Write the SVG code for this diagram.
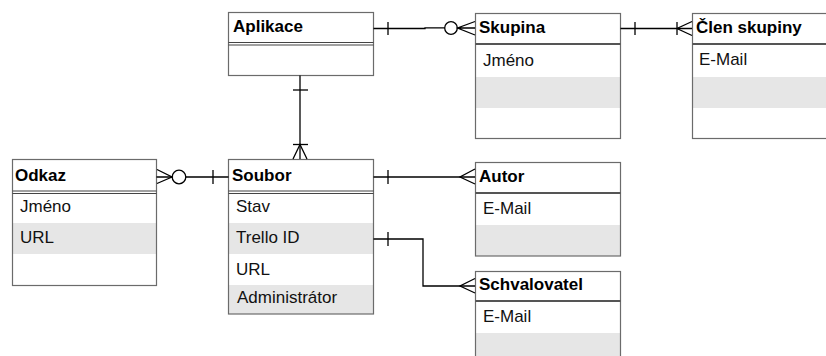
<svg xmlns="http://www.w3.org/2000/svg" width="826" height="356" viewBox="0 0 826 356">
<style>
.box{fill:#fff;stroke:#6b6b6b;stroke-width:1.2}
.alt{fill:#e6e6e6}
.sep{stroke:#444;stroke-width:1.2;fill:none}
.sep2{stroke:#555;stroke-width:2;fill:none}
.h{font-family:"Liberation Sans",Arial,sans-serif;font-weight:bold;font-size:17px;fill:#000}
.t{font-family:"Liberation Sans",Arial,sans-serif;font-size:17px;fill:#111}
.c{stroke:#000;stroke-width:1.3;fill:none}
.ci{stroke:#000;stroke-width:1.3;fill:#fff}
</style>
<g id="aplikace">
<rect class="box" x="228.5" y="12.5" width="145" height="63"/>
<line class="sep" x1="228.5" y1="42.5" x2="373.5" y2="42.5"/>
<line class="sep" x1="228.5" y1="45" x2="373.5" y2="45"/>
<text class="h" x="233" y="32">Aplikace</text>
</g>
<g id="skupina">
<rect class="alt" x="475.5" y="77" width="145" height="31"/>
<rect class="box" x="475.5" y="13.5" width="145" height="125" fill="none" style="fill:none"/>
<line class="sep2" x1="475.5" y1="44" x2="620.5" y2="44"/>
<text class="h" x="479" y="33">Skupina</text>
<text class="t" x="483" y="66">Jméno</text>
</g>
<g id="clen">
<rect class="alt" x="692.5" y="77" width="140" height="31"/>
<rect class="box" x="692.5" y="13.5" width="150" height="125" style="fill:none"/>
<line class="sep2" x1="692.5" y1="44" x2="826" y2="44"/>
<text class="h" x="696" y="33">Člen skupiny</text>
<text class="t" x="699" y="65">E-Mail</text>
</g>
<g id="odkaz">
<rect class="alt" x="12.5" y="223" width="144" height="31"/>
<rect class="box" x="12.5" y="159.5" width="144" height="126" style="fill:none"/>
<line class="sep" x1="12.5" y1="191" x2="156.5" y2="191"/>
<line class="sep" x1="12.5" y1="193.5" x2="156.5" y2="193.5"/>
<text class="h" x="15" y="181">Odkaz</text>
<text class="t" x="20" y="212">Jméno</text>
<text class="t" x="20" y="243">URL</text>
</g>
<g id="soubor">
<rect class="alt" x="228.5" y="223" width="145" height="31"/>
<rect class="alt" x="228.5" y="285" width="145" height="29"/>
<rect class="box" x="228.5" y="159.5" width="145" height="154.5" style="fill:none"/>
<line class="sep" x1="228.5" y1="191" x2="373.5" y2="191"/>
<line class="sep" x1="228.5" y1="193.5" x2="373.5" y2="193.5"/>
<text class="h" x="232" y="181">Soubor</text>
<text class="t" x="236" y="212">Stav</text>
<text class="t" x="236" y="243">Trello ID</text>
<text class="t" x="236" y="275">URL</text>
<text class="t" x="237" y="303">Administrátor</text>
</g>
<g id="autor">
<rect class="alt" x="475.5" y="225" width="145" height="31"/>
<rect class="box" x="475.5" y="162.5" width="145" height="93.5" style="fill:none"/>
<line class="sep2" x1="475.5" y1="193" x2="620.5" y2="193"/>
<text class="h" x="479" y="182">Autor</text>
<text class="t" x="483" y="214">E-Mail</text>
</g>
<g id="schvalovatel">
<rect class="alt" x="475.5" y="333" width="145" height="40"/>
<rect class="box" x="475.5" y="271.5" width="145" height="110" style="fill:none"/>
<line class="sep2" x1="475.5" y1="301" x2="620.5" y2="301"/>
<text class="h" x="479" y="290">Schvalovatel</text>
<text class="t" x="483" y="322">E-Mail</text>
</g>
<g id="connectors">
<!-- Aplikace - Skupina -->
<path class="c" d="M373.5 28.5 H425 V27.8 H445"/>
<line class="c" x1="388" y1="22" x2="388" y2="35"/>
<circle class="ci" cx="451" cy="28" r="6.3"/>
<path class="c" d="M475 21.5 L457.5 28 L475 35 M457.5 28 H475"/>
<!-- Skupina - Clen -->
<path class="c" d="M620.5 28.5 H692"/>
<line class="c" x1="635" y1="22" x2="635" y2="35"/>
<line class="c" x1="677" y1="22" x2="677" y2="35"/>
<path class="c" d="M692 21.5 L677 28.5 L692 35.5"/>
<!-- Aplikace - Soubor -->
<path class="c" d="M300 75.5 V159"/>
<line class="c" x1="293" y1="90" x2="308" y2="90"/>
<line class="c" x1="293" y1="144.5" x2="308" y2="144.5"/>
<path class="c" d="M293 159 L300 144.5 L307 159"/>
<!-- Odkaz - Soubor -->
<path class="c" d="M156.5 177 H172 M186 177 H228.5"/>
<circle class="ci" cx="179" cy="177" r="6.8"/>
<path class="c" d="M157 169.5 L172 177 L157 183.5"/>
<line class="c" x1="213" y1="170" x2="213" y2="184"/>
<!-- Soubor - Autor -->
<path class="c" d="M373.5 177 H475"/>
<line class="c" x1="388" y1="170" x2="388" y2="184"/>
<path class="c" d="M475 169 L460 177 L475 184"/>
<!-- Soubor Trello ID - Schvalovatel -->
<path class="c" d="M373.5 239 H423 V286 H475"/>
<line class="c" x1="388" y1="232" x2="388" y2="246"/>
<path class="c" d="M475 278.5 L460 286 L475 293"/>
</g>
</svg>
